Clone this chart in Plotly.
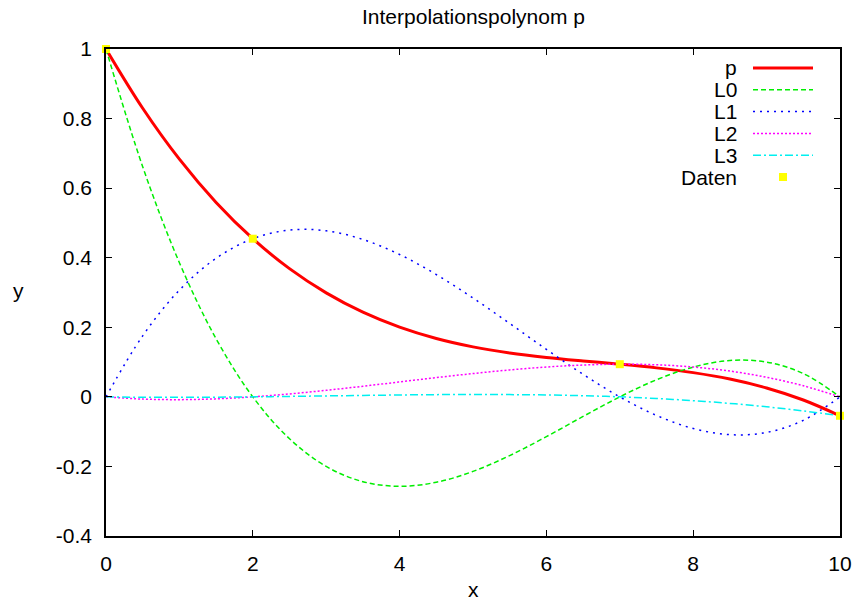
import plotly.graph_objects as go

x_vals = [0, 0.5, 1, 1.5, 2, 2.5, 3, 3.5, 4, 4.5, 5, 5.5, 6, 6.5, 7, 7.5, 8, 8.5, 9, 9.5, 10]
p_vals = [1.0, 0.8296, 0.6832, 0.5589, 0.4546, 0.3686, 0.2989, 0.2434, 0.2004, 0.1678, 0.1437,
          0.1262, 0.1134, 0.1032, 0.0939, 0.0833, 0.0697, 0.0511, 0.0255, -0.0091, -0.0544]
L0_vals = [1.0, 0.6616, 0.3857, 0.1670, 0.0, -0.1205, -0.2, -0.2438, -0.2571, -0.2455, -0.2143,
           -0.1688, -0.1143, -0.0563, 0.0, 0.0491, 0.0857, 0.1045, 0.1, 0.0670, 0.0]
L1_vals = [0.0, 0.1755, 0.3069, 0.3985, 0.4546, 0.4795, 0.4774, 0.4525, 0.4092, 0.3516, 0.2842,
           0.2110, 0.1364, 0.0647, 0.0, -0.0533, -0.0909, -0.1087, -0.1023, -0.0675, 0.0]
L2_vals = [0.0, -0.0064, -0.0080, -0.0057, 0.0, 0.0084, 0.0188, 0.0305, 0.0429, 0.0553, 0.0670,
           0.0774, 0.0858, 0.0915, 0.0939, 0.0922, 0.0858, 0.0741, 0.0563, 0.0318, 0.0]
L3_vals = [0.0, -0.0011, -0.0014, -0.0009, 0.0, 0.0013, 0.0027, 0.0042, 0.0054, 0.0064, 0.0068,
           0.0065, 0.0054, 0.0033, 0.0, -0.0047, -0.0109, -0.0188, -0.0286, -0.0404, -0.0544]
data_x = [0, 2, 7, 10]
data_y = [1.0, 0.4546, 0.0939, -0.0544]

x_ticks = [0, 2, 4, 6, 8, 10]
y_ticks = [-0.4, -0.2, 0, 0.2, 0.4, 0.6, 0.8, 1]
y_tick_text = ["-0.4", "-0.2", "0", "0.2", "0.4", "0.6", "0.8", "1"]

GREEN, BLUE, MAGENTA, CYAN = "#00ee00", "#0000ff", "#ff00ff", "#00f0f0"
series = [
    ("L0", L0_vals, GREEN, "5px,3px", 1.5),
    ("L1", L1_vals, BLUE, "2px,5px", 1.5),
    ("L2", L2_vals, MAGENTA, "2px,2px", 1.5),
    ("L3", L3_vals, CYAN, "8px,3px,2px,3px", 1.5),
]

FONT = "Liberation Sans, Arial, sans-serif"
FS = 21
fig = go.Figure()

fig.add_trace(go.Scatter(x=x_vals, y=p_vals, mode="lines", name="p",
                         line=dict(color="#ff0000", width=3, shape="spline"), showlegend=False))
for name, vals, col, dash, w in series:
    fig.add_trace(go.Scatter(x=x_vals, y=vals, mode="lines", name=name,
                             line=dict(color=col, width=w, dash=dash, shape="spline"),
                             showlegend=False))
fig.add_trace(go.Scatter(x=data_x, y=data_y, mode="markers",
                         marker=dict(symbol="square", size=8, color="#ffff00", line=dict(width=0)),
                         name="Daten", showlegend=False, cliponaxis=False))

# manual gnuplot-style legend (text left of sample)
legend_items = [("p", "#ff0000", "solid", 3), ("L0", GREEN, "5px,3px", 1.5),
                ("L1", BLUE, "2px,5px", 1.5), ("L2", MAGENTA, "2px,2px", 1.5),
                ("L3", CYAN, "8px,3px,2px,3px", 1.5)]
L, R, T, B = 106, 840, 49, 536
W, H = R - L, B - T
def px(xp):
    return (xp - L) / W
def py(yp):
    return (B - yp) / H

shapes = []
annotations = []
row_y = 68
step = 21.8
for i, (name, col, dash, w) in enumerate(legend_items):
    yy = row_y + i * step
    annotations.append(dict(x=px(739), y=py(yy), xref="paper", yref="paper", text=name,
                            showarrow=False, xanchor="right", yanchor="middle",
                            font=dict(family=FONT, size=FS, color="black")))
    shapes.append(dict(type="line", xref="paper", yref="paper", x0=px(753), x1=px(813),
                       y0=py(yy), y1=py(yy), line=dict(color=col, width=w, dash=dash)))
yy = row_y + 5 * step
annotations.append(dict(x=px(739), y=py(yy), xref="paper", yref="paper", text="Daten",
                        showarrow=False, xanchor="right", yanchor="middle",
                        font=dict(family=FONT, size=FS, color="black")))
shapes.append(dict(type="rect", xref="paper", yref="paper", x0=px(779), x1=px(787),
                   y0=py(yy + 4), y1=py(yy - 4), fillcolor="#ffff00", line=dict(width=0)))

annotations.append(dict(x=px(18), y=py(290), xref="paper", yref="paper", text="y",
                        showarrow=False, xanchor="center", yanchor="middle",
                        font=dict(family=FONT, size=FS, color="black")))
annotations.append(dict(x=0.5, y=py(589), xref="paper", yref="paper", text="x",
                        showarrow=False, xanchor="center", yanchor="middle",
                        font=dict(family=FONT, size=FS, color="black")))
annotations.append(dict(x=0.5, y=py(17), xref="paper", yref="paper", text="Interpolationspolynom p",
                        showarrow=False, xanchor="center", yanchor="middle",
                        font=dict(family=FONT, size=FS, color="black")))

fig.update_layout(
    width=856, height=603,
    margin=dict(l=L, r=856 - R, t=T, b=603 - B, autoexpand=False),
    paper_bgcolor="white", plot_bgcolor="white",
    shapes=shapes, annotations=annotations,
    font=dict(family=FONT, size=FS, color="black"),
)
fig.update_xaxes(range=[0, 10], tickvals=x_ticks, ticks="inside", ticklen=6, tickwidth=1,
                 tickcolor="black", showline=True, linecolor="black", linewidth=1.5,
                 mirror="ticks", showgrid=False, zeroline=False, ticklabelstandoff=8,
                 automargin=False,
                 tickfont=dict(family=FONT, size=FS, color="black"))
fig.update_yaxes(range=[-0.4, 1], tickvals=y_ticks, ticktext=y_tick_text, ticks="inside",
                 ticklen=6, tickwidth=1, tickcolor="black", showline=True, linecolor="black",
                 linewidth=1.5, mirror="ticks", showgrid=False, zeroline=False,
                 ticklabelstandoff=8, automargin=False,
                 tickfont=dict(family=FONT, size=FS, color="black"))

fig.write_html("out.html")
